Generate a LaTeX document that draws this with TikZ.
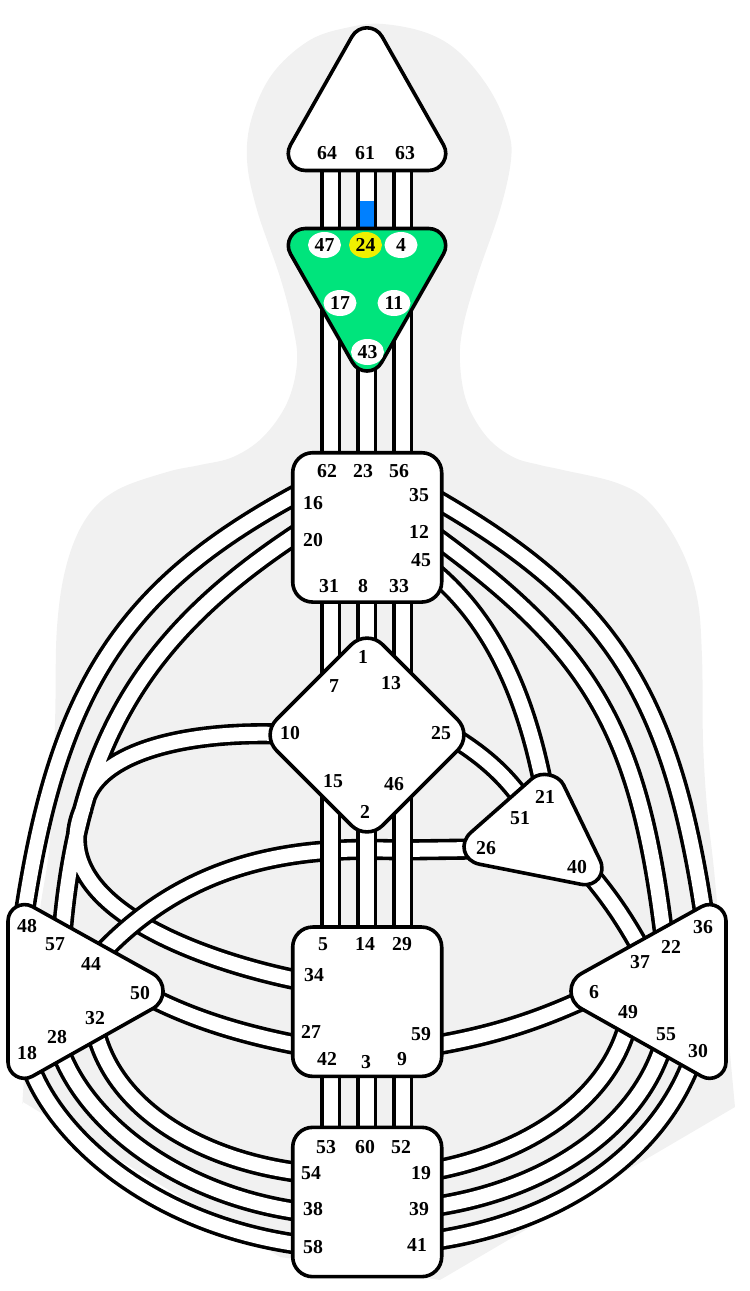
\documentclass[tikz,border=0pt]{standalone}
\usepackage{fontspec}
\setmainfont{Liberation Serif}
\usetikzlibrary{shapes.geometric,calc}
\definecolor{bodygrey}{HTML}{F1F1F1}
\definecolor{ajnagreen}{HTML}{00E47C}
\definecolor{gateyellow}{HTML}{F0F000}
\definecolor{chanblue}{HTML}{0080FF}
\tikzset{
  chan/.style={draw=black,line width=2.7pt,double=white,double distance=10.5pt,line cap=butt},
  centre/.style={draw=black,fill=white,line width=2.7pt,line join=round},
  squarebox/.style={draw=black,fill=white,line width=2.7pt,rounded corners=15pt,
    minimum width=111.75pt,minimum height=112pt,inner sep=0pt},
  gate/.style={font=\fontsize{14.8}{16}\selectfont\bfseries,inner sep=0pt},
  oval/.style={gate,ellipse,fill=white,minimum width=24.75pt,minimum height=19.5pt},
}
% one rounded corner of a triangle: previous vertex, vertex, next vertex, tangent length
\newcommand\tricorner[4]{($(#2)!#4!(#1)$) .. controls ($(#2)!0.556*#4!(#1)$) and ($(#2)!0.556*#4!(#3)$) .. ($(#2)!#4!(#3)$)}
\begin{document}
\begin{tikzpicture}[x=0.75pt,y=-0.75pt]
\useasboundingbox (0,0) rectangle (749,1291);
% body silhouette
\fill[bodygrey] plot[smooth,tension=0.6] coordinates {
 (735,1107) (727,1020) (715,880) (707,807) (703,740) (702,657) (697,597) (680,547) (650,503)
 (617,483) (563,470) (540,465) (513,457) (487,437) (467,403) (460,363) (463,327) (477,277)
 (500,210) (511,160) (508,130) (490,90) (460,53) (427,33) (383,24) (350,27) (310,40) (273,73)
 (252,117) (247,160) (257,210) (280,277) (293,327) (297,363) (287,403) (263,437) (233,457)
 (200,465) (167,472) (117,490) (87,517) (67,563) (57,627) (55,723)
 (50,840) (40,910) (30,1000) (23,1093) (23,1102)}
 -- (280,1257) -- (440,1280) -- cycle;
% channel ends
\foreach \n/\x/\y in {
 16/301/492, 48/24/915, 20/300/532, 57/62/935, 35/432/497, 36/704/915, 12/433/535, 22/664/937,
 45/435/573, 21/544/790, 10/280/734, 34/302/981, 44/99/956, 26/475/849, 25/453/737, 51/524/802,
 40/589/873, 37/642/951, 50/150/997, 27/303/1046, 59/431/1046, 6/587/998, 32/95/1029, 54/303/1173,
 28/60/1050, 38/303/1212, 18/30/1065, 58/303/1245, 49/628/1023, 19/431/1171, 55/664/1042,
 39/431/1207, 30/693/1058, 41/431/1241,
 64/330.5/165, 47/330.5/235, 61/366.5/165, 24/366.5/235, 63/402.5/165, 4/402.5/235,
 17/330.5/300, 62/330.5/460, 43/366.5/350, 23/366.5/460, 11/402.5/300, 56/402.5/460,
 31/330.5/595, 7/330.5/690, 8/366.5/595, 1/366.5/650, 33/402.5/595, 13/402.5/690,
 15/330.5/780, 5/330.5/935, 2/366.5/825, 14/366.5/935, 46/402.5/780, 29/402.5/935,
 42/330.5/1070, 53/330.5/1135, 3/366.5/1070, 60/366.5/1135, 9/402.5/1070, 52/402.5/1135}
 \coordinate (p\n) at (\x,\y);
\coordinate (bluetop) at (366.5,201);
% curved channels
\draw[chan] (p16) .. controls (125,586) and (58,687) .. (p48);
\draw[chan] (p35) .. controls (606,597) and (670,687) .. (p36);
\draw[chan] (p12) .. controls (591,650) and (639,729) .. (p22);
\draw[chan] (p45) .. controls (490,620) and (525,690) .. (p21);
\draw[chan] (p25) .. controls (480,754) and (503,772) .. (p51);
\draw[chan] (p40) .. controls (610,898) and (625,920) .. (p37);
\draw[chan] (p50) .. controls (195,1020) and (245,1035) .. (p27);
\draw[chan] (p59) .. controls (490,1036) and (535,1022) .. (p6);
\draw[chan] (p32) .. controls (112,1105) and (195,1160) .. (p54);
\draw[chan] (p28) .. controls (85,1120) and (175,1195) .. (p38);
\draw[chan] (p18) .. controls (55,1135) and (150,1225) .. (p58);
\draw[chan] (p49) .. controls (610,1095) and (535,1152) .. (p19);
\draw[chan] (p55) .. controls (640,1125) and (550,1190) .. (p39);
\draw[chan] (p30) .. controls (660,1150) and (565,1222) .. (p41);
% merged channels: one path, so the white runs together
\coordinate (join10) at (87,795);
\coordinate (join34) at (83.5,808);
\draw[chan] (p20) .. controls (149,631) and (78,737) .. (p57)
  (p10) .. controls (185,731) and (105,752) .. (join10)
  (p34) .. controls (205,962) and (40,905) .. (join34);
% 26-44 crosses above 34
\draw[chan] (p26) -- (400,850) .. controls (300,846) and (190,858) .. (p44);
% vertical channels
\draw[chan] (p64) -- (p47);
\draw[chan] (p61) -- (p24);
\draw[chan] (p63) -- (p4);
\draw[chan] (p17) -- (p62);
\draw[chan] (p43) -- (p23);
\draw[chan] (p11) -- (p56);
\draw[chan] (p31) -- (p7);
\draw[chan] (p8) -- (p1);
\draw[chan] (p33) -- (p13);
\draw[chan] (p15) -- (p5);
\draw[chan] (p46) -- (p29);
\draw[chan] (p2) -- (p14);
\draw[chan] (p42) -- (p53);
\draw[chan] (p3) -- (p60);
\draw[chan] (p9) -- (p52);
\draw[chanblue,line width=10.5pt] (bluetop) -- (p24);
% centres
\coordinate (ha) at (367,10); \coordinate (hb) at (458,170.5); \coordinate (hc) at (276,170.5);
\draw[centre] \tricorner{hc}{ha}{hb}{23pt} -- \tricorner{ha}{hb}{hc}{22pt} -- \tricorner{hb}{hc}{ha}{22pt} -- cycle;
\coordinate (aa) at (276,228.5); \coordinate (ab) at (458,228.5); \coordinate (ac) at (367,388);
\draw[centre,fill=ajnagreen] \tricorner{ac}{aa}{ab}{22pt} -- \tricorner{aa}{ab}{ac}{22pt} -- \tricorner{ab}{ac}{aa}{22pt} -- cycle;
\node[squarebox] (throat) at (367.2,527.4) {};
\draw[centre,rounded corners=16.5pt] (367,629) -- (473,735) -- (367,841) -- (261,735) -- cycle;
\node[squarebox] (sacral) at (367.2,1001.7) {};
\node[squarebox] (root) at (367.2,1202) {};
\coordinate (la) at (8,893); \coordinate (lb) at (184,991); \coordinate (lc) at (8,1090);
\draw[centre] \tricorner{lc}{la}{lb}{21pt} -- \tricorner{la}{lb}{lc}{27pt} -- \tricorner{lb}{lc}{la}{21pt} -- cycle;
\coordinate (ra) at (726,893); \coordinate (rb) at (550,991); \coordinate (rc) at (726,1090);
\draw[centre] \tricorner{rc}{ra}{rb}{21pt} -- \tricorner{ra}{rb}{rc}{27pt} -- \tricorner{rb}{rc}{ra}{21pt} -- cycle;
\coordinate (ea) at (552,761); \coordinate (eb) at (615,891); \coordinate (ec) at (443,857);
\draw[centre] \tricorner{ec}{ea}{eb}{20pt} -- \tricorner{ea}{eb}{ec}{26pt} -- \tricorner{eb}{ec}{ea}{28pt} -- cycle;
% ovals in the green centre
\node[oval] (g47) at (324.5,245) {47};
\node[oval,fill=gateyellow] (g24) at (365.5,245) {24};
\node[oval] (g4) at (401,245) {4};
\node[oval] (g17) at (340,303) {17};
\node[oval] (g11) at (394,303) {11};
\node[oval] (g43) at (367.5,352) {43};
% gate labels
\foreach \n/\x/\y in {
 64/327/153, 61/365/153, 63/405/153,
 62/327/471, 23/363/471, 56/399/471, 16/313/503, 20/313/540, 35/419/495, 12/419/532, 45/421/560,
 31/329/586, 8/363/586, 33/399/586,
 1/363/657, 7/334/686, 13/391/683, 10/290/733, 25/441/733, 15/333/781, 46/394/784, 2/365/812,
 21/545/797, 51/520/818, 26/486/848, 40/577/867,
 36/703/927, 22/671/947, 37/640/962, 6/594/992, 49/628/1012, 55/666/1034, 30/698/1051,
 48/27/926, 57/55/944, 44/91/964, 50/140/993, 32/95/1018, 28/57/1037, 18/27/1053,
 5/323/944, 14/365/944, 29/402/944, 34/314/975, 27/311/1032, 59/421/1034, 42/327/1059, 3/366/1062, 9/402/1059,
 53/326/1147, 60/365/1147, 52/401/1147, 54/311/1173, 19/421/1173, 38/313/1209, 39/419/1209, 58/313/1247, 41/417/1245}
 \node[gate] (g\n) at (\x,\y) {\n};
\end{tikzpicture}
\end{document}
